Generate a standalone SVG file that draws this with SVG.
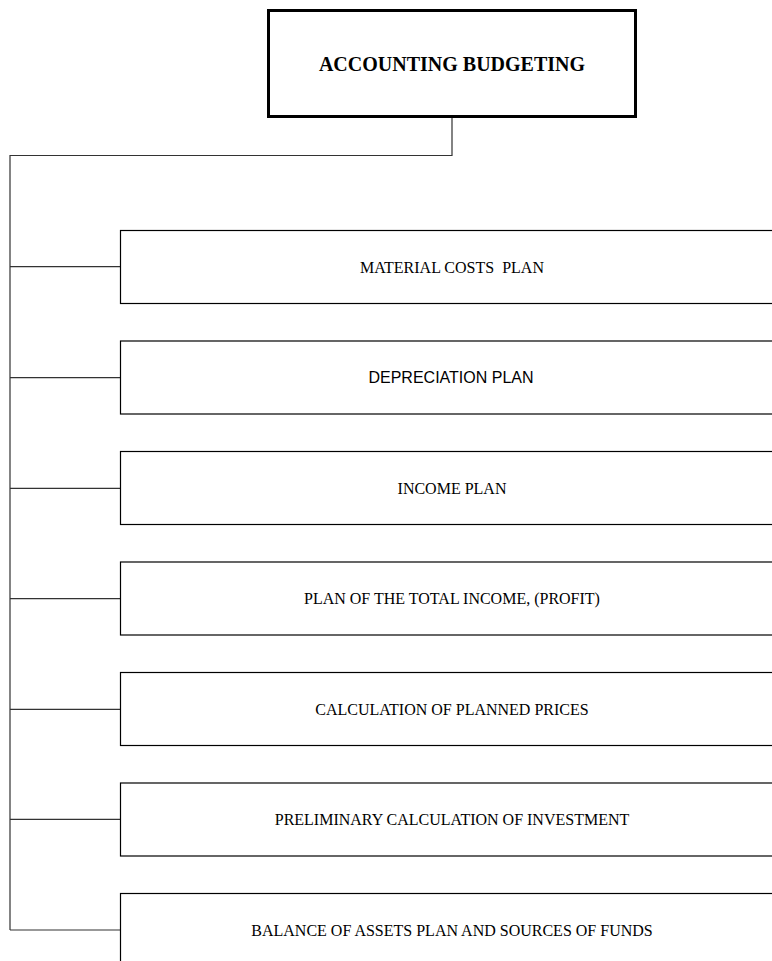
<svg xmlns="http://www.w3.org/2000/svg" width="772" height="961" viewBox="0 0 772 961">
<style>
.bg{fill:#ffffff}
.box{fill:#ffffff;stroke:#000000;stroke-width:1.2}
.top{fill:#ffffff;stroke:#000000;stroke-width:3}
.conn{fill:none;stroke:#333333;stroke-width:1.2}
.t{font-family:"Liberation Serif","Times New Roman",serif;font-size:16px;fill:#000000;text-anchor:middle}
.s{font-family:"Liberation Sans",Arial,sans-serif;font-size:16px;fill:#000000;text-anchor:middle}
.h{font-family:"Liberation Serif","Times New Roman",serif;font-size:20px;font-weight:bold;fill:#000000;text-anchor:middle}
</style>
<rect class="bg" x="0" y="0" width="772" height="961"/>
<g id="connectors">
<polyline class="conn" points="452,118 452,155.5 10,155.5 10,930"/>
<line class="conn" x1="10" y1="266.7" x2="120" y2="266.7"/>
<line class="conn" x1="10" y1="377.7" x2="120" y2="377.7"/>
<line class="conn" x1="10" y1="488.3" x2="120" y2="488.3"/>
<line class="conn" x1="10" y1="598.7" x2="120" y2="598.7"/>
<line class="conn" x1="10" y1="709.3" x2="120" y2="709.3"/>
<line class="conn" x1="10" y1="819.3" x2="120" y2="819.3"/>
<line class="conn" x1="10" y1="930" x2="120" y2="930"/>
</g>
<g id="root">
<rect class="top" x="268.5" y="10.5" width="367" height="106"/>
<text class="h" x="452" y="71">ACCOUNTING BUDGETING</text>
</g>
<g id="n1">
<rect class="box" x="120.5" y="230.5" width="700" height="73"/>
<text class="t" x="452" y="272.5" xml:space="preserve">MATERIAL COSTS  PLAN</text>
</g>
<g id="n2">
<rect class="box" x="120.5" y="341" width="700" height="73"/>
<text class="s" x="451" y="383">DEPRECIATION PLAN</text>
</g>
<g id="n3">
<rect class="box" x="120.5" y="451.5" width="700" height="73"/>
<text class="t" x="452" y="493.5">INCOME PLAN</text>
</g>
<g id="n4">
<rect class="box" x="120.5" y="562" width="700" height="73"/>
<text class="t" x="452" y="604">PLAN OF THE TOTAL INCOME, (PROFIT)</text>
</g>
<g id="n5">
<rect class="box" x="120.5" y="672.5" width="700" height="73"/>
<text class="t" x="452" y="714.5">CALCULATION OF PLANNED PRICES</text>
</g>
<g id="n6">
<rect class="box" x="120.5" y="783" width="700" height="73"/>
<text class="t" x="452" y="825">PRELIMINARY CALCULATION OF INVESTMENT</text>
</g>
<g id="n7">
<rect class="box" x="120.5" y="893.5" width="700" height="73"/>
<text class="t" x="452" y="936">BALANCE OF ASSETS PLAN AND SOURCES OF FUNDS</text>
</g>
</svg>
